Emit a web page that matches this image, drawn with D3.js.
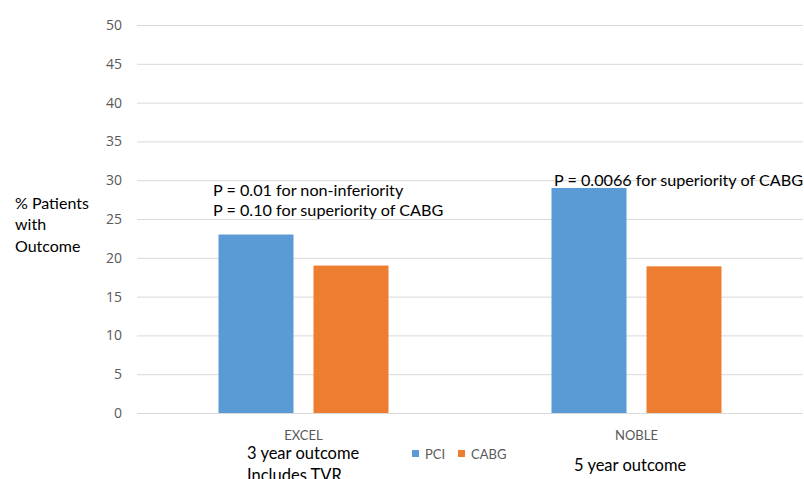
<!DOCTYPE html>
<html><head><meta charset="utf-8">
<script src="https://cdn.jsdelivr.net/npm/d3@7"></script>
<style>body{margin:0;background:#fff}svg{display:block}text{font-family:Lato,"Open Sans",sans-serif}</style>
</head><body><svg id="c" width="804" height="479"></svg>
<script>
const categories = ["EXCEL", "NOBLE"];
const seriesNames = ["PCI", "CABG"];
const pciValues = [23, 29];
const cabgValues = [19, 18.9];
const yTicks = [0, 5, 10, 15, 20, 25, 30, 35, 40, 45, 50];
const colors = ["#5B9BD5", "#ED7D31"];
const notes = [
  {cat: "EXCEL", lines: ["P = 0.01 for non-inferiority", "P = 0.10 for superiority of CABG"]},
  {cat: "NOBLE", lines: ["P = 0.0066 for superiority of CABG"]}
];
const subLabels = [["3 year outcome", "Includes TVR"], ["5 year outcome"]];
const yLabel = ["% Patients", "with", "Outcome"];

const svg = d3.select("#c");
const y = d3.scaleLinear().domain([0, 50]).range([413, 25]);
const x0 = d3.scaleBand().domain(categories).range([137, 803]).padding(0);
const groupW = 170;
const x1 = d3.scaleBand().domain(seriesNames).range([0, groupW]).paddingInner(20/95).paddingOuter(0);
const off = (x0.bandwidth() - groupW) / 2;

// gridlines
const yAxis = d3.axisLeft(y).tickValues(yTicks).tickSize(-(803-137)).tickPadding(15);
const ga = svg.append("g").attr("transform", "translate(137,0)").call(yAxis);
ga.select(".domain").remove();
ga.selectAll(".tick line").attr("stroke", "#d9d9d9").attr("stroke-width", 1);
ga.selectAll(".tick text").attr("fill", "#595959").style("font-size", "14px").style("font-family", "'Open Sans', sans-serif");

// bars
const data = categories.map((c, i) => ({cat: c, vals: [pciValues[i], cabgValues[i]]}));
const g = svg.append("g");
data.forEach(d => {
  d.vals.forEach((v, j) => {
    g.append("rect")
      .attr("x", x0(d.cat) + off + x1(seriesNames[j]))
      .attr("y", y(v))
      .attr("width", x1.bandwidth())
      .attr("height", y(0) - y(v))
      .attr("fill", colors[j]);
  });
});

// category labels
categories.forEach(c => {
  svg.append("text").attr("x", x0(c) + x0.bandwidth()/2).attr("y", 440)
    .attr("text-anchor", "middle").attr("fill", "#595959").style("font-size", "13px").text(c);
});

// sub labels
svg.append("text").attr("x", 247).attr("y", 458.5).style("font-size", "16.5px").attr("fill", "#000")
  .selectAll("tspan").data(subLabels[0]).join("tspan").attr("x", 247).attr("dy", (d, i) => i ? 22 : 0).text(d => d);
svg.append("text").attr("x", 574).attr("y", 470.5).style("font-size", "16.5px").attr("fill", "#000").text(subLabels[1][0]);

// annotations
svg.append("text").attr("x", 213).attr("y", 195.5).style("font-size", "16.2px").attr("fill", "#000")
  .selectAll("tspan").data(notes[0].lines).join("tspan").attr("x", 213).attr("dy", (d, i) => i ? 20 : 0).text(d => d);
svg.append("text").attr("x", 554).attr("y", 185.5).style("font-size", "16.2px").attr("fill", "#000").text(notes[1].lines[0]);

// y label
svg.append("text").attr("x", 15).attr("y", 208.5).style("font-size", "16px").attr("fill", "#000")
  .selectAll("tspan").data(yLabel).join("tspan").attr("x", 15).attr("dy", (d, i) => i ? 21.5 : 0).text(d => d);

// legend
const lg = svg.append("g");
const legX = [412, 458];
seriesNames.forEach((s, i) => {
  lg.append("rect").attr("x", legX[i]).attr("y", 450).attr("width", 7).attr("height", 7).attr("fill", colors[i]);
  lg.append("text").attr("x", legX[i] + 13).attr("y", 458.5).attr("fill", "#595959").style("font-size", "13px").text(s);
});
</script></body></html>
